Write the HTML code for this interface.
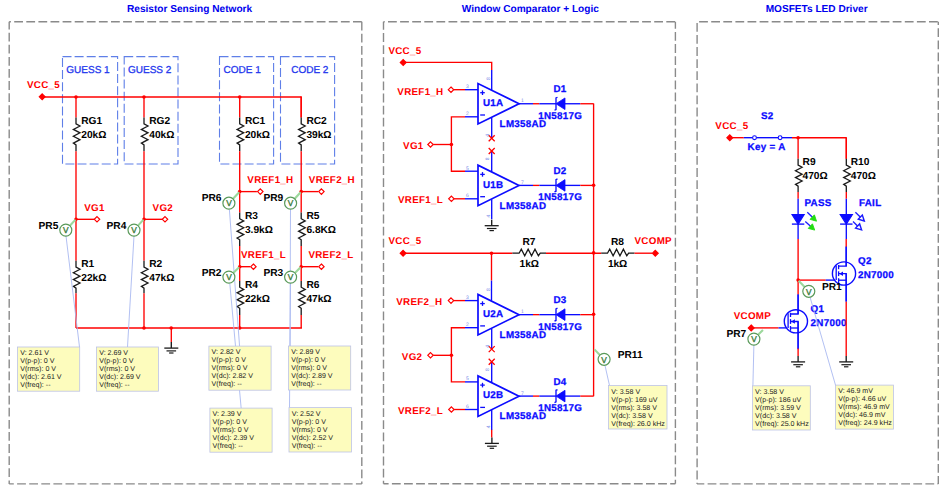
<!DOCTYPE html><html><head><meta charset="utf-8"><style>html,body{margin:0;padding:0;background:#fff;overflow:hidden;}svg{display:block;}text{font-family:"Liberation Sans", sans-serif;text-rendering:geometricPrecision;}</style></head><body>
<svg width="944" height="490" viewBox="0 0 944 490">
<rect width="944" height="490" fill="#fff"/>
<line x1="9.2" y1="21.7" x2="361.8" y2="21.7" stroke="#8a8a8a" stroke-width="1.4" stroke-dasharray="8.8,3.30" stroke-dashoffset="7.10"/>
<line x1="9.2" y1="21.7" x2="9.2" y2="483.9" stroke="#8a8a8a" stroke-width="1.4" stroke-dasharray="8.8,3.30" stroke-dashoffset="1.10"/>
<line x1="361.8" y1="21.7" x2="361.8" y2="483.9" stroke="#8a8a8a" stroke-width="1.4" stroke-dasharray="8.8,3.30" stroke-dashoffset="0.00"/>
<line x1="9.2" y1="483.9" x2="361.8" y2="483.9" stroke="#8a8a8a" stroke-width="1.4" stroke-dasharray="8.8,3.30" stroke-dashoffset="4.20"/>
<line x1="383.5" y1="21.7" x2="675.4" y2="21.7" stroke="#8a8a8a" stroke-width="1.4" stroke-dasharray="8.8,3.30" stroke-dashoffset="7.60"/>
<line x1="383.5" y1="21.7" x2="383.5" y2="483.7" stroke="#8a8a8a" stroke-width="1.4" stroke-dasharray="8.8,3.30" stroke-dashoffset="0.70"/>
<line x1="675.4" y1="21.7" x2="675.4" y2="483.7" stroke="#8a8a8a" stroke-width="1.4" stroke-dasharray="8.8,3.30" stroke-dashoffset="1.80"/>
<line x1="383.5" y1="483.7" x2="675.4" y2="483.7" stroke="#8a8a8a" stroke-width="1.4" stroke-dasharray="8.8,3.30" stroke-dashoffset="3.70"/>
<line x1="697.1" y1="21.7" x2="938.3" y2="21.7" stroke="#8a8a8a" stroke-width="1.4" stroke-dasharray="8.8,3.30" stroke-dashoffset="10.10"/>
<line x1="697.1" y1="21.7" x2="697.1" y2="483.9" stroke="#8a8a8a" stroke-width="1.4" stroke-dasharray="8.8,3.30" stroke-dashoffset="10.90"/>
<line x1="938.3" y1="21.7" x2="938.3" y2="483.9" stroke="#8a8a8a" stroke-width="1.4" stroke-dasharray="8.8,3.30" stroke-dashoffset="5.50"/>
<line x1="697.1" y1="483.9" x2="938.3" y2="483.9" stroke="#8a8a8a" stroke-width="1.4" stroke-dasharray="8.8,3.30" stroke-dashoffset="1.60"/>
<text x="127" y="11.5" fill="#0000ee" font-size="10.1" font-weight="bold" text-anchor="start" >Resistor Sensing Network</text>
<text x="461.8" y="11.5" fill="#0000ee" font-size="10.1" font-weight="bold" text-anchor="start" >Window Comparator + Logic</text>
<text x="765.7" y="11.5" fill="#0000ee" font-size="10.1" font-weight="bold" text-anchor="start" >MOSFETs LED Driver</text>
<rect x="62.5" y="56.6" width="55.099999999999994" height="107.4" fill="none" stroke="#5f7fe8" stroke-width="1.1" stroke-dasharray="9,3.1"/>
<rect x="124.2" y="56.6" width="53.8" height="107.4" fill="none" stroke="#5f7fe8" stroke-width="1.1" stroke-dasharray="9,3.1"/>
<rect x="219.5" y="56.6" width="54.10000000000002" height="107.4" fill="none" stroke="#5f7fe8" stroke-width="1.1" stroke-dasharray="9,3.1"/>
<rect x="280.5" y="56.6" width="54.10000000000002" height="107.4" fill="none" stroke="#5f7fe8" stroke-width="1.1" stroke-dasharray="9,3.1"/>
<text x="66.3" y="72.8" fill="#2438ee" font-size="10" font-weight="normal" text-anchor="start" stroke="#2438ee" stroke-width="0.3">GUESS 1</text>
<text x="128" y="72.8" fill="#2438ee" font-size="10" font-weight="normal" text-anchor="start" stroke="#2438ee" stroke-width="0.3">GUESS 2</text>
<text x="223.6" y="72.8" fill="#2438ee" font-size="10" font-weight="normal" text-anchor="start" stroke="#2438ee" stroke-width="0.3">CODE 1</text>
<text x="291.2" y="72.8" fill="#2438ee" font-size="10" font-weight="normal" text-anchor="start" stroke="#2438ee" stroke-width="0.3">CODE 2</text>
<text x="27" y="87.8" fill="#ff0000" font-size="9.8" font-weight="bold" text-anchor="start"  letter-spacing="0.3">VCC_5</text>
<line x1="42" y1="97" x2="301.2" y2="97" stroke="#ff0000" stroke-width="1.35" />
<line x1="301.2" y1="96.25" x2="301.2" y2="117.5" stroke="#ff0000" stroke-width="1.35" />
<polygon points="42.2,93.89999999999999 45.1,96.8 42.2,99.7 39.300000000000004,96.8" fill="#ff0000" stroke="#ff0000" stroke-width="1.2"/>
<circle cx="76" cy="97" r="1.8" fill="#ff0000"/>
<circle cx="144" cy="97" r="1.8" fill="#ff0000"/>
<circle cx="239.7" cy="97" r="1.8" fill="#ff0000"/>
<line x1="76" y1="97" x2="76" y2="117.5" stroke="#ff0000" stroke-width="1.35" />
<polyline points="76,117.5 76,123.8 80.0,126.0 73.4,129.42 80.0,132.84 73.4,136.26 80.0,139.68 73.4,143.1 76,144.9 76,151.2" stroke="#1a1a1a" stroke-width="1.3" fill="none" stroke-linejoin="miter"/>
<text x="81.3" y="124.2" fill="#000" font-size="10.2" font-weight="bold" text-anchor="start"  letter-spacing="-0.05">RG1</text>
<text x="81.3" y="137.7" fill="#000" font-size="10.2" font-weight="bold" text-anchor="start"  letter-spacing="-0.05">20kΩ</text>
<line x1="144" y1="97" x2="144" y2="117.5" stroke="#ff0000" stroke-width="1.35" />
<polyline points="144,117.5 144,123.8 148.0,126.0 141.4,129.42 148.0,132.84 141.4,136.26 148.0,139.68 141.4,143.1 144,144.9 144,151.2" stroke="#1a1a1a" stroke-width="1.3" fill="none" stroke-linejoin="miter"/>
<text x="149.3" y="124.2" fill="#000" font-size="10.2" font-weight="bold" text-anchor="start"  letter-spacing="-0.05">RG2</text>
<text x="149.3" y="137.7" fill="#000" font-size="10.2" font-weight="bold" text-anchor="start"  letter-spacing="-0.05">40kΩ</text>
<line x1="239.7" y1="97" x2="239.7" y2="117.5" stroke="#ff0000" stroke-width="1.35" />
<polyline points="239.7,117.5 239.7,123.8 243.7,126.0 237.1,129.42 243.7,132.84 237.1,136.26 243.7,139.68 237.1,143.1 239.7,144.9 239.7,151.2" stroke="#1a1a1a" stroke-width="1.3" fill="none" stroke-linejoin="miter"/>
<text x="245.0" y="124.2" fill="#000" font-size="10.2" font-weight="bold" text-anchor="start"  letter-spacing="-0.05">RC1</text>
<text x="245.0" y="137.7" fill="#000" font-size="10.2" font-weight="bold" text-anchor="start"  letter-spacing="-0.05">20kΩ</text>
<line x1="301.2" y1="97" x2="301.2" y2="117.5" stroke="#ff0000" stroke-width="1.35" />
<polyline points="301.2,117.5 301.2,123.8 305.2,126.0 298.59999999999997,129.42 305.2,132.84 298.59999999999997,136.26 305.2,139.68 298.59999999999997,143.1 301.2,144.9 301.2,151.2" stroke="#1a1a1a" stroke-width="1.3" fill="none" stroke-linejoin="miter"/>
<text x="306.5" y="124.2" fill="#000" font-size="10.2" font-weight="bold" text-anchor="start"  letter-spacing="-0.05">RC2</text>
<text x="306.5" y="137.7" fill="#000" font-size="10.2" font-weight="bold" text-anchor="start"  letter-spacing="-0.05">39kΩ</text>
<line x1="76" y1="151.2" x2="76" y2="260.8" stroke="#ff0000" stroke-width="1.35" />
<line x1="76" y1="219.3" x2="94.3" y2="219.3" stroke="#ff0000" stroke-width="1.35" />
<polygon points="97,216.60000000000002 99.7,219.3 97,222.0 94.3,219.3" fill="#fff" stroke="#ff0000" stroke-width="1.2"/>
<circle cx="76" cy="219.3" r="1.8" fill="#ff0000"/>
<text x="84.2" y="210.6" fill="#ff0000" font-size="9.8" font-weight="bold" text-anchor="start"  letter-spacing="0.3">VG1</text>
<polyline points="76,260.8 76,267.1 80.0,269.3 73.4,272.72 80.0,276.14 73.4,279.56 80.0,282.98 73.4,286.40000000000003 76,288.20000000000005 76,293.3" stroke="#1a1a1a" stroke-width="1.3" fill="none" stroke-linejoin="miter"/>
<text x="81.3" y="267" fill="#000" font-size="10.2" font-weight="bold" text-anchor="start"  letter-spacing="-0.05">R1</text>
<text x="81.3" y="280.8" fill="#000" font-size="10.2" font-weight="bold" text-anchor="start"  letter-spacing="-0.05">22kΩ</text>
<line x1="76" y1="293.3" x2="76" y2="328" stroke="#ff0000" stroke-width="1.35" />
<text x="38.6" y="229.2" fill="#000" font-size="10.2" font-weight="bold" text-anchor="start"  letter-spacing="-0.05">PR5</text>
<line x1="144" y1="151.2" x2="144" y2="260.8" stroke="#ff0000" stroke-width="1.35" />
<line x1="144" y1="219.3" x2="162.3" y2="219.3" stroke="#ff0000" stroke-width="1.35" />
<polygon points="165,216.60000000000002 167.7,219.3 165,222.0 162.3,219.3" fill="#fff" stroke="#ff0000" stroke-width="1.2"/>
<circle cx="144" cy="219.3" r="1.8" fill="#ff0000"/>
<text x="152.6" y="210.6" fill="#ff0000" font-size="9.8" font-weight="bold" text-anchor="start"  letter-spacing="0.3">VG2</text>
<polyline points="144,260.8 144,267.1 148.0,269.3 141.4,272.72 148.0,276.14 141.4,279.56 148.0,282.98 141.4,286.40000000000003 144,288.20000000000005 144,293.3" stroke="#1a1a1a" stroke-width="1.3" fill="none" stroke-linejoin="miter"/>
<text x="149.3" y="267" fill="#000" font-size="10.2" font-weight="bold" text-anchor="start"  letter-spacing="-0.05">R2</text>
<text x="149.3" y="280.8" fill="#000" font-size="10.2" font-weight="bold" text-anchor="start"  letter-spacing="-0.05">47kΩ</text>
<line x1="144" y1="293.3" x2="144" y2="328" stroke="#ff0000" stroke-width="1.35" />
<text x="106.6" y="229.2" fill="#000" font-size="10.2" font-weight="bold" text-anchor="start"  letter-spacing="-0.05">PR4</text>
<line x1="239.7" y1="151.2" x2="239.7" y2="212.4" stroke="#ff0000" stroke-width="1.35" />
<line x1="239.7" y1="191.6" x2="256.90000000000003" y2="191.6" stroke="#ff0000" stroke-width="1.35" />
<polygon points="260.3,188.9 263.0,191.6 260.3,194.29999999999998 257.6,191.6" fill="#fff" stroke="#ff0000" stroke-width="1.2"/>
<circle cx="239.7" cy="191.6" r="1.8" fill="#ff0000"/>
<text x="247.29999999999998" y="183" fill="#ff0000" font-size="9.8" font-weight="bold" text-anchor="start"  letter-spacing="0.3">VREF1_H</text>
<polyline points="239.7,212.4 239.7,218.70000000000002 243.7,220.9 237.1,224.32 243.7,227.74 237.1,231.16 243.7,234.58 237.1,238.0 239.7,239.8 239.7,246.1" stroke="#1a1a1a" stroke-width="1.3" fill="none" stroke-linejoin="miter"/>
<text x="245.0" y="219.4" fill="#000" font-size="10.2" font-weight="bold" text-anchor="start"  letter-spacing="-0.05">R3</text>
<text x="245.0" y="233.2" fill="#000" font-size="10.2" font-weight="bold" text-anchor="start"  letter-spacing="-0.05">3.9kΩ</text>
<line x1="239.7" y1="246.1" x2="239.7" y2="280.9" stroke="#ff0000" stroke-width="1.35" />
<text x="241.0" y="258.4" fill="#ff0000" font-size="9.8" font-weight="bold" text-anchor="start"  letter-spacing="0.3">VREF1_L</text>
<line x1="239.7" y1="266.7" x2="250.0" y2="266.7" stroke="#ff0000" stroke-width="1.35" />
<polygon points="253.4,264.0 256.1,266.7 253.4,269.4 250.70000000000002,266.7" fill="#fff" stroke="#ff0000" stroke-width="1.2"/>
<circle cx="239.7" cy="266.7" r="1.8" fill="#ff0000"/>
<polyline points="239.7,280.9 239.7,287.2 243.7,289.4 237.1,292.82 243.7,296.23999999999995 237.1,299.65999999999997 243.7,303.08 237.1,306.5 239.7,308.3 239.7,314.9" stroke="#1a1a1a" stroke-width="1.3" fill="none" stroke-linejoin="miter"/>
<text x="245.0" y="287.8" fill="#000" font-size="10.2" font-weight="bold" text-anchor="start"  letter-spacing="-0.05">R4</text>
<text x="245.0" y="301.6" fill="#000" font-size="10.2" font-weight="bold" text-anchor="start"  letter-spacing="-0.05">22kΩ</text>
<line x1="239.7" y1="314.9" x2="239.7" y2="328" stroke="#ff0000" stroke-width="1.35" />
<text x="201.8" y="201.4" fill="#000" font-size="10.2" font-weight="bold" text-anchor="start"  letter-spacing="-0.05">PR6</text>
<text x="201.8" y="276" fill="#000" font-size="10.2" font-weight="bold" text-anchor="start"  letter-spacing="-0.05">PR2</text>
<line x1="301.2" y1="151.2" x2="301.2" y2="212.4" stroke="#ff0000" stroke-width="1.35" />
<line x1="301.2" y1="191.6" x2="318.0" y2="191.6" stroke="#ff0000" stroke-width="1.35" />
<polygon points="321.4,188.9 324.09999999999997,191.6 321.4,194.29999999999998 318.7,191.6" fill="#fff" stroke="#ff0000" stroke-width="1.2"/>
<circle cx="301.2" cy="191.6" r="1.8" fill="#ff0000"/>
<text x="308.8" y="183" fill="#ff0000" font-size="9.8" font-weight="bold" text-anchor="start"  letter-spacing="0.3">VREF2_H</text>
<polyline points="301.2,212.4 301.2,218.70000000000002 305.2,220.9 298.59999999999997,224.32 305.2,227.74 298.59999999999997,231.16 305.2,234.58 298.59999999999997,238.0 301.2,239.8 301.2,246.1" stroke="#1a1a1a" stroke-width="1.3" fill="none" stroke-linejoin="miter"/>
<text x="306.5" y="219.4" fill="#000" font-size="10.2" font-weight="bold" text-anchor="start"  letter-spacing="-0.05">R5</text>
<text x="306.5" y="233.2" fill="#000" font-size="10.2" font-weight="bold" text-anchor="start"  letter-spacing="-0.05">6.8KΩ</text>
<line x1="301.2" y1="246.1" x2="301.2" y2="280.9" stroke="#ff0000" stroke-width="1.35" />
<text x="308.4" y="258.4" fill="#ff0000" font-size="9.8" font-weight="bold" text-anchor="start"  letter-spacing="0.3">VREF2_L</text>
<line x1="301.2" y1="266.7" x2="318.0" y2="266.7" stroke="#ff0000" stroke-width="1.35" />
<polygon points="321.4,264.0 324.09999999999997,266.7 321.4,269.4 318.7,266.7" fill="#fff" stroke="#ff0000" stroke-width="1.2"/>
<circle cx="301.2" cy="266.7" r="1.8" fill="#ff0000"/>
<polyline points="301.2,280.9 301.2,287.2 305.2,289.4 298.59999999999997,292.82 305.2,296.23999999999995 298.59999999999997,299.65999999999997 305.2,303.08 298.59999999999997,306.5 301.2,308.3 301.2,314.9" stroke="#1a1a1a" stroke-width="1.3" fill="none" stroke-linejoin="miter"/>
<text x="306.5" y="287.8" fill="#000" font-size="10.2" font-weight="bold" text-anchor="start"  letter-spacing="-0.05">R6</text>
<text x="306.5" y="301.6" fill="#000" font-size="10.2" font-weight="bold" text-anchor="start"  letter-spacing="-0.05">47kΩ</text>
<line x1="301.2" y1="314.9" x2="301.2" y2="328" stroke="#ff0000" stroke-width="1.35" />
<text x="263.5" y="201.4" fill="#000" font-size="10.2" font-weight="bold" text-anchor="start"  letter-spacing="-0.05">PR9</text>
<text x="263.5" y="276" fill="#000" font-size="10.2" font-weight="bold" text-anchor="start"  letter-spacing="-0.05">PR3</text>
<line x1="76" y1="328" x2="301.95" y2="328" stroke="#ff0000" stroke-width="1.35" />
<circle cx="144" cy="328" r="1.8" fill="#ff0000"/>
<circle cx="171.2" cy="328" r="1.8" fill="#ff0000"/>
<circle cx="239.7" cy="328" r="1.8" fill="#ff0000"/>
<line x1="171.3" y1="328" x2="171.3" y2="342.1" stroke="#ff0000" stroke-width="1.35" />
<line x1="171.3" y1="342.1" x2="171.3" y2="348.1" stroke="#1a1a1a" stroke-width="1.35" />
<line x1="164.3" y1="348.1" x2="178.3" y2="348.1" stroke="#1a1a1a" stroke-width="1.3" />
<line x1="166.5" y1="350.90000000000003" x2="176.10000000000002" y2="350.90000000000003" stroke="#1a1a1a" stroke-width="1.2" />
<line x1="169.10000000000002" y1="353.0" x2="173.5" y2="353.0" stroke="#1a1a1a" stroke-width="1.2" />
<line x1="66" y1="236" x2="79.5" y2="347" stroke="#a9b9f0" stroke-width="0.9" />
<line x1="134" y1="236" x2="127.5" y2="347" stroke="#a9b9f0" stroke-width="0.9" />
<line x1="229.4" y1="209.5" x2="239.6" y2="346.5" stroke="#a9b9f0" stroke-width="0.9" />
<line x1="229.8" y1="283.5" x2="241.2" y2="408.5" stroke="#a9b9f0" stroke-width="0.9" />
<line x1="290.5" y1="209" x2="290" y2="346.5" stroke="#a9b9f0" stroke-width="0.9" />
<line x1="290.5" y1="283" x2="289.5" y2="408" stroke="#a9b9f0" stroke-width="0.9" />
<line x1="69.85975173605675" y1="225.68203487546765" x2="75.45869976852576" y2="219.58906201660432" stroke="#9cd89c" stroke-width="2.1" />
<circle cx="65.8" cy="230.1" r="6" fill="#fff" stroke="#5a9a5a" stroke-width="1.2"/>
<text x="65.8" y="233.29999999999998" fill="#3d7d3d" font-size="8.3" font-weight="normal" text-anchor="middle" stroke="#3d7d3d" stroke-width="0.35">V</text>
<line x1="138.01600668121276" y1="225.64223258385383" x2="143.46453244250498" y2="219.5943689888195" stroke="#9cd89c" stroke-width="2.1" />
<circle cx="134" cy="230.1" r="6" fill="#fff" stroke="#5a9a5a" stroke-width="1.2"/>
<text x="134" y="233.29999999999998" fill="#3d7d3d" font-size="8.3" font-weight="normal" text-anchor="middle" stroke="#3d7d3d" stroke-width="0.35">V</text>
<line x1="232.98851116751305" y1="198.8086361534119" x2="239.1548651776649" y2="192.18551517954506" stroke="#9cd89c" stroke-width="2.1" />
<circle cx="228.9" cy="203.2" r="6" fill="#fff" stroke="#5a9a5a" stroke-width="1.2"/>
<text x="228.9" y="206.39999999999998" fill="#3d7d3d" font-size="8.3" font-weight="normal" text-anchor="middle" stroke="#3d7d3d" stroke-width="0.35">V</text>
<line x1="233.2219212809489" y1="272.9381498776048" x2="239.1237438292068" y2="267.25491334965267" stroke="#9cd89c" stroke-width="2.1" />
<circle cx="228.9" cy="277.1" r="6" fill="#fff" stroke="#5a9a5a" stroke-width="1.2"/>
<text x="228.9" y="280.3" fill="#3d7d3d" font-size="8.3" font-weight="normal" text-anchor="middle" stroke="#3d7d3d" stroke-width="0.35">V</text>
<line x1="294.647426599308" y1="198.77074070264405" x2="300.66034312009225" y2="192.19056790631413" stroke="#9cd89c" stroke-width="2.1" />
<circle cx="290.6" cy="203.2" r="6" fill="#fff" stroke="#5a9a5a" stroke-width="1.2"/>
<text x="290.6" y="206.39999999999998" fill="#3d7d3d" font-size="8.3" font-weight="normal" text-anchor="middle" stroke="#3d7d3d" stroke-width="0.35">V</text>
<line x1="294.8828525596294" y1="272.89795597923154" x2="300.6289529920494" y2="267.26027253610243" stroke="#9cd89c" stroke-width="2.1" />
<circle cx="290.6" cy="277.1" r="6" fill="#fff" stroke="#5a9a5a" stroke-width="1.2"/>
<text x="290.6" y="280.3" fill="#3d7d3d" font-size="8.3" font-weight="normal" text-anchor="middle" stroke="#3d7d3d" stroke-width="0.35">V</text>
<rect x="17.5" y="347" width="62.2" height="44.19999999999999" fill="#fdfcbd" stroke="#bcc2e6" stroke-width="0.8"/>
<text x="20.2" y="355.0" fill="#222" font-size="7.1" font-weight="normal" text-anchor="start" >V: 2.61 V</text>
<text x="20.2" y="363.0" fill="#222" font-size="7.1" font-weight="normal" text-anchor="start" >V(p-p): 0 V</text>
<text x="20.2" y="371.0" fill="#222" font-size="7.1" font-weight="normal" text-anchor="start" >V(rms): 0 V</text>
<text x="20.2" y="379.0" fill="#222" font-size="7.1" font-weight="normal" text-anchor="start" >V(dc): 2.61 V</text>
<text x="20.2" y="387.0" fill="#222" font-size="7.1" font-weight="normal" text-anchor="start" >V(freq): --</text>
<rect x="96.5" y="347" width="61.900000000000006" height="44.19999999999999" fill="#fdfcbd" stroke="#bcc2e6" stroke-width="0.8"/>
<text x="99.2" y="355.0" fill="#222" font-size="7.1" font-weight="normal" text-anchor="start" >V: 2.69 V</text>
<text x="99.2" y="363.0" fill="#222" font-size="7.1" font-weight="normal" text-anchor="start" >V(p-p): 0 V</text>
<text x="99.2" y="371.0" fill="#222" font-size="7.1" font-weight="normal" text-anchor="start" >V(rms): 0 V</text>
<text x="99.2" y="379.0" fill="#222" font-size="7.1" font-weight="normal" text-anchor="start" >V(dc): 2.69 V</text>
<text x="99.2" y="387.0" fill="#222" font-size="7.1" font-weight="normal" text-anchor="start" >V(freq): --</text>
<rect x="208.9" y="346.1" width="62.20000000000002" height="44.099999999999966" fill="#fdfcbd" stroke="#bcc2e6" stroke-width="0.8"/>
<text x="211.6" y="354.1" fill="#222" font-size="7.1" font-weight="normal" text-anchor="start" >V: 2.82 V</text>
<text x="211.6" y="362.1" fill="#222" font-size="7.1" font-weight="normal" text-anchor="start" >V(p-p): 0 V</text>
<text x="211.6" y="370.1" fill="#222" font-size="7.1" font-weight="normal" text-anchor="start" >V(rms): 0 V</text>
<text x="211.6" y="378.1" fill="#222" font-size="7.1" font-weight="normal" text-anchor="start" >V(dc): 2.82 V</text>
<text x="211.6" y="386.1" fill="#222" font-size="7.1" font-weight="normal" text-anchor="start" >V(freq): --</text>
<rect x="209.9" y="408.1" width="62.20000000000002" height="44.099999999999966" fill="#fdfcbd" stroke="#bcc2e6" stroke-width="0.8"/>
<text x="212.6" y="416.1" fill="#222" font-size="7.1" font-weight="normal" text-anchor="start" >V: 2.39 V</text>
<text x="212.6" y="424.1" fill="#222" font-size="7.1" font-weight="normal" text-anchor="start" >V(p-p): 0 V</text>
<text x="212.6" y="432.1" fill="#222" font-size="7.1" font-weight="normal" text-anchor="start" >V(rms): 0 V</text>
<text x="212.6" y="440.1" fill="#222" font-size="7.1" font-weight="normal" text-anchor="start" >V(dc): 2.39 V</text>
<text x="212.6" y="448.1" fill="#222" font-size="7.1" font-weight="normal" text-anchor="start" >V(freq): --</text>
<rect x="288.5" y="346" width="62.19999999999999" height="44" fill="#fdfcbd" stroke="#bcc2e6" stroke-width="0.8"/>
<text x="291.2" y="354.0" fill="#222" font-size="7.1" font-weight="normal" text-anchor="start" >V: 2.89 V</text>
<text x="291.2" y="362.0" fill="#222" font-size="7.1" font-weight="normal" text-anchor="start" >V(p-p): 0 V</text>
<text x="291.2" y="370.0" fill="#222" font-size="7.1" font-weight="normal" text-anchor="start" >V(rms): 0 V</text>
<text x="291.2" y="378.0" fill="#222" font-size="7.1" font-weight="normal" text-anchor="start" >V(dc): 2.89 V</text>
<text x="291.2" y="386.0" fill="#222" font-size="7.1" font-weight="normal" text-anchor="start" >V(freq): --</text>
<rect x="289" y="407.6" width="62.39999999999998" height="44.39999999999998" fill="#fdfcbd" stroke="#bcc2e6" stroke-width="0.8"/>
<text x="291.7" y="415.6" fill="#222" font-size="7.1" font-weight="normal" text-anchor="start" >V: 2.52 V</text>
<text x="291.7" y="423.6" fill="#222" font-size="7.1" font-weight="normal" text-anchor="start" >V(p-p): 0 V</text>
<text x="291.7" y="431.6" fill="#222" font-size="7.1" font-weight="normal" text-anchor="start" >V(rms): 0 V</text>
<text x="291.7" y="439.6" fill="#222" font-size="7.1" font-weight="normal" text-anchor="start" >V(dc): 2.52 V</text>
<text x="291.7" y="447.6" fill="#222" font-size="7.1" font-weight="normal" text-anchor="start" >V(freq): --</text>
<text x="388.4" y="54" fill="#ff0000" font-size="9.8" font-weight="bold" text-anchor="start"  letter-spacing="0.3">VCC_5</text>
<polygon points="403.2,59.6 406.09999999999997,62.5 403.2,65.4 400.3,62.5" fill="#ff0000" stroke="#ff0000" stroke-width="1.2"/>
<polyline points="403.2,62.3 491.7,62.3 491.7,70" stroke="#ff0000" stroke-width="1.35" fill="none" />
<line x1="491.7" y1="70" x2="491.7" y2="90" stroke="#0c0cff" stroke-width="1.35" />
<polygon points="478,83.5 478,124.0 519,103.75" fill="none" stroke="#0c0cff" stroke-width="1.7"/>
<line x1="480.2" y1="92.7" x2="484.8" y2="92.7" stroke="#0c0cff" stroke-width="1.3" />
<line x1="482.5" y1="90.4" x2="482.5" y2="95.0" stroke="#0c0cff" stroke-width="1.3" />
<line x1="480.2" y1="115.0" x2="485" y2="115.0" stroke="#0c0cff" stroke-width="1.3" />
<text x="483" y="105.95" fill="#0c0cff" font-size="9.8" font-weight="bold" text-anchor="start"  letter-spacing="0.3" stroke="#0c0cff" stroke-width="0.28">U1A</text>
<text x="499.6" y="127.0" fill="#0c0cff" font-size="9.8" font-weight="bold" text-anchor="start"  letter-spacing="0.3" stroke="#0c0cff" stroke-width="0.28">LM358AD</text>
<line x1="453.7" y1="89.7" x2="465" y2="89.7" stroke="#ff0000" stroke-width="1.35" />
<line x1="465" y1="89.7" x2="478" y2="89.7" stroke="#0c0cff" stroke-width="1.35" />
<polygon points="451,87.0 453.7,89.7 451,92.4 448.3,89.7" fill="#fff" stroke="#ff0000" stroke-width="1.2"/>
<text x="397.3" y="94.5" fill="#ff0000" font-size="9.8" font-weight="bold" text-anchor="start"  letter-spacing="0.3">VREF1_H</text>
<line x1="465" y1="116.8" x2="478" y2="116.8" stroke="#0c0cff" stroke-width="1.35" />
<line x1="519" y1="103.75" x2="533" y2="103.75" stroke="#0c0cff" stroke-width="1.35" />
<line x1="533" y1="103.75" x2="539.3" y2="103.75" stroke="#ff0000" stroke-width="1.35" />
<line x1="539.3" y1="103.75" x2="556" y2="103.75" stroke="#0c0cff" stroke-width="1.35" />
<polygon points="556,103.75 565,97.95 565,109.55" fill="#0c0cff" stroke="#0c0cff" stroke-width="0.8"/>
<polyline points="557.5,97.25 556,97.95 556,109.55 554.5,110.25" stroke="#0c0cff" stroke-width="1.35" fill="none" />
<text x="553.5" y="92.15" fill="#0c0cff" font-size="9.8" font-weight="bold" text-anchor="start"  letter-spacing="0.3" stroke="#0c0cff" stroke-width="0.28">D1</text>
<text x="538.2" y="118.75" fill="#0c0cff" font-size="9.8" font-weight="bold" text-anchor="start"  letter-spacing="0.3" stroke="#0c0cff" stroke-width="0.28">1N5817G</text>
<line x1="565" y1="103.75" x2="580.3" y2="103.75" stroke="#0c0cff" stroke-width="1.35" />
<line x1="580.3" y1="103.75" x2="593.6" y2="103.75" stroke="#ff0000" stroke-width="1.35" />
<polygon points="478,165.2 478,205.7 519,185.45" fill="none" stroke="#0c0cff" stroke-width="1.7"/>
<line x1="480.2" y1="174.39999999999998" x2="484.8" y2="174.39999999999998" stroke="#0c0cff" stroke-width="1.3" />
<line x1="482.5" y1="172.1" x2="482.5" y2="176.7" stroke="#0c0cff" stroke-width="1.3" />
<line x1="480.2" y1="196.7" x2="485" y2="196.7" stroke="#0c0cff" stroke-width="1.3" />
<text x="483" y="187.64999999999998" fill="#0c0cff" font-size="9.8" font-weight="bold" text-anchor="start"  letter-spacing="0.3" stroke="#0c0cff" stroke-width="0.28">U1B</text>
<text x="499.6" y="208.7" fill="#0c0cff" font-size="9.8" font-weight="bold" text-anchor="start"  letter-spacing="0.3" stroke="#0c0cff" stroke-width="0.28">LM358AD</text>
<polyline points="465,116.8 451.4,116.8 451.4,171.2 465,171.2" stroke="#ff0000" stroke-width="1.35" fill="none" />
<line x1="465" y1="171.2" x2="478" y2="171.2" stroke="#0c0cff" stroke-width="1.35" />
<line x1="433.2" y1="144.5" x2="451.4" y2="144.5" stroke="#ff0000" stroke-width="1.35" />
<polygon points="430.5,141.8 433.2,144.5 430.5,147.2 427.8,144.5" fill="#fff" stroke="#ff0000" stroke-width="1.2"/>
<circle cx="451.4" cy="144.5" r="1.8" fill="#ff0000"/>
<text x="403.1" y="149.0" fill="#ff0000" font-size="9.8" font-weight="bold" text-anchor="start"  letter-spacing="0.3">VG1</text>
<line x1="454.1" y1="198.79999999999998" x2="465" y2="198.79999999999998" stroke="#ff0000" stroke-width="1.35" />
<line x1="465" y1="198.79999999999998" x2="478" y2="198.79999999999998" stroke="#0c0cff" stroke-width="1.35" />
<polygon points="451.4,196.1 454.09999999999997,198.79999999999998 451.4,201.49999999999997 448.7,198.79999999999998" fill="#fff" stroke="#ff0000" stroke-width="1.2"/>
<text x="398" y="203.29999999999998" fill="#ff0000" font-size="9.8" font-weight="bold" text-anchor="start"  letter-spacing="0.3">VREF1_L</text>
<line x1="519" y1="185.39999999999998" x2="533" y2="185.39999999999998" stroke="#0c0cff" stroke-width="1.35" />
<line x1="533" y1="185.39999999999998" x2="539.3" y2="185.39999999999998" stroke="#ff0000" stroke-width="1.35" />
<line x1="539.3" y1="185.39999999999998" x2="556" y2="185.39999999999998" stroke="#0c0cff" stroke-width="1.35" />
<polygon points="556,185.39999999999998 565,179.59999999999997 565,191.2" fill="#0c0cff" stroke="#0c0cff" stroke-width="0.8"/>
<polyline points="557.5,178.89999999999998 556,179.59999999999997 556,191.2 554.5,191.89999999999998" stroke="#0c0cff" stroke-width="1.35" fill="none" />
<text x="553.5" y="173.79999999999998" fill="#0c0cff" font-size="9.8" font-weight="bold" text-anchor="start"  letter-spacing="0.3" stroke="#0c0cff" stroke-width="0.28">D2</text>
<text x="538.2" y="200.39999999999998" fill="#0c0cff" font-size="9.8" font-weight="bold" text-anchor="start"  letter-spacing="0.3" stroke="#0c0cff" stroke-width="0.28">1N5817G</text>
<line x1="565" y1="185.39999999999998" x2="580.3" y2="185.39999999999998" stroke="#0c0cff" stroke-width="1.35" />
<line x1="580.3" y1="185.39999999999998" x2="593.6" y2="185.39999999999998" stroke="#ff0000" stroke-width="1.35" />
<line x1="491.7" y1="117.5" x2="491.7" y2="138.2" stroke="#0c0cff" stroke-width="1.35" />
<line x1="491.7" y1="151.0" x2="491.7" y2="171.7" stroke="#0c0cff" stroke-width="1.35" />
<line x1="488.7" y1="135.2" x2="494.7" y2="141.2" stroke="#ff0000" stroke-width="1.3" />
<line x1="488.7" y1="141.2" x2="494.7" y2="135.2" stroke="#ff0000" stroke-width="1.3" />
<line x1="488.7" y1="148.0" x2="494.7" y2="154.0" stroke="#ff0000" stroke-width="1.3" />
<line x1="488.7" y1="154.0" x2="494.7" y2="148.0" stroke="#ff0000" stroke-width="1.3" />
<line x1="491.7" y1="199.2" x2="491.7" y2="219.2" stroke="#0c0cff" stroke-width="1.35" />
<text x="466" y="88.2" fill="#7a8ae8" font-size="5" font-weight="normal" text-anchor="start" >3</text>
<text x="466" y="115.3" fill="#7a8ae8" font-size="5" font-weight="normal" text-anchor="start" >2</text>
<text x="521" y="102.25" fill="#7a8ae8" font-size="5" font-weight="normal" text-anchor="start" >1</text>
<text x="466" y="169.7" fill="#7a8ae8" font-size="5" font-weight="normal" text-anchor="start" >5</text>
<text x="466" y="197.29999999999998" fill="#7a8ae8" font-size="5" font-weight="normal" text-anchor="start" >6</text>
<text x="521" y="183.89999999999998" fill="#7a8ae8" font-size="5" font-weight="normal" text-anchor="start" >7</text>
<text x="488" y="80.3" fill="#7a8ae8" font-size="5" text-anchor="middle" transform="rotate(-90 488 78.6)">8</text>
<text x="487.6" y="137.1" fill="#7a8ae8" font-size="5" text-anchor="middle" transform="rotate(-90 487.6 135.4)">4</text>
<text x="487.6" y="160.49999999999997" fill="#7a8ae8" font-size="5" text-anchor="middle" transform="rotate(-90 487.6 158.79999999999998)">8</text>
<text x="488" y="217.89999999999998" fill="#7a8ae8" font-size="5" text-anchor="middle" transform="rotate(-90 488 216.2)">4</text>
<polygon points="478,294.4 478,334.9 519,314.65" fill="none" stroke="#0c0cff" stroke-width="1.7"/>
<line x1="480.2" y1="303.59999999999997" x2="484.8" y2="303.59999999999997" stroke="#0c0cff" stroke-width="1.3" />
<line x1="482.5" y1="301.29999999999995" x2="482.5" y2="305.9" stroke="#0c0cff" stroke-width="1.3" />
<line x1="480.2" y1="325.9" x2="485" y2="325.9" stroke="#0c0cff" stroke-width="1.3" />
<text x="483" y="316.84999999999997" fill="#0c0cff" font-size="9.8" font-weight="bold" text-anchor="start"  letter-spacing="0.3" stroke="#0c0cff" stroke-width="0.28">U2A</text>
<text x="499.6" y="337.9" fill="#0c0cff" font-size="9.8" font-weight="bold" text-anchor="start"  letter-spacing="0.3" stroke="#0c0cff" stroke-width="0.28">LM358AD</text>
<line x1="453.7" y1="300.59999999999997" x2="465" y2="300.59999999999997" stroke="#ff0000" stroke-width="1.35" />
<line x1="465" y1="300.59999999999997" x2="478" y2="300.59999999999997" stroke="#0c0cff" stroke-width="1.35" />
<polygon points="451,297.9 453.7,300.59999999999997 451,303.29999999999995 448.3,300.59999999999997" fill="#fff" stroke="#ff0000" stroke-width="1.2"/>
<text x="396.2" y="305.4" fill="#ff0000" font-size="9.8" font-weight="bold" text-anchor="start"  letter-spacing="0.3">VREF2_H</text>
<line x1="465" y1="327.7" x2="478" y2="327.7" stroke="#0c0cff" stroke-width="1.35" />
<line x1="519" y1="314.65" x2="533" y2="314.65" stroke="#0c0cff" stroke-width="1.35" />
<line x1="533" y1="314.65" x2="539.3" y2="314.65" stroke="#ff0000" stroke-width="1.35" />
<line x1="539.3" y1="314.65" x2="556" y2="314.65" stroke="#0c0cff" stroke-width="1.35" />
<polygon points="556,314.65 565,308.84999999999997 565,320.45" fill="#0c0cff" stroke="#0c0cff" stroke-width="0.8"/>
<polyline points="557.5,308.15 556,308.84999999999997 556,320.45 554.5,321.15" stroke="#0c0cff" stroke-width="1.35" fill="none" />
<text x="553.5" y="303.04999999999995" fill="#0c0cff" font-size="9.8" font-weight="bold" text-anchor="start"  letter-spacing="0.3" stroke="#0c0cff" stroke-width="0.28">D3</text>
<text x="538.2" y="329.65" fill="#0c0cff" font-size="9.8" font-weight="bold" text-anchor="start"  letter-spacing="0.3" stroke="#0c0cff" stroke-width="0.28">1N5817G</text>
<line x1="565" y1="314.65" x2="580.3" y2="314.65" stroke="#0c0cff" stroke-width="1.35" />
<line x1="580.3" y1="314.65" x2="593.6" y2="314.65" stroke="#ff0000" stroke-width="1.35" />
<polygon points="478,375.9 478,416.4 519,396.15" fill="none" stroke="#0c0cff" stroke-width="1.7"/>
<line x1="480.2" y1="385.09999999999997" x2="484.8" y2="385.09999999999997" stroke="#0c0cff" stroke-width="1.3" />
<line x1="482.5" y1="382.79999999999995" x2="482.5" y2="387.4" stroke="#0c0cff" stroke-width="1.3" />
<line x1="480.2" y1="407.4" x2="485" y2="407.4" stroke="#0c0cff" stroke-width="1.3" />
<text x="483" y="398.34999999999997" fill="#0c0cff" font-size="9.8" font-weight="bold" text-anchor="start"  letter-spacing="0.3" stroke="#0c0cff" stroke-width="0.28">U2B</text>
<text x="499.6" y="419.4" fill="#0c0cff" font-size="9.8" font-weight="bold" text-anchor="start"  letter-spacing="0.3" stroke="#0c0cff" stroke-width="0.28">LM358AD</text>
<polyline points="465,327.7 451.4,327.7 451.4,381.9 465,381.9" stroke="#ff0000" stroke-width="1.35" fill="none" />
<line x1="465" y1="381.9" x2="478" y2="381.9" stroke="#0c0cff" stroke-width="1.35" />
<line x1="433.2" y1="355.29999999999995" x2="451.4" y2="355.29999999999995" stroke="#ff0000" stroke-width="1.35" />
<polygon points="430.5,352.59999999999997 433.2,355.29999999999995 430.5,357.99999999999994 427.8,355.29999999999995" fill="#fff" stroke="#ff0000" stroke-width="1.2"/>
<circle cx="451.4" cy="355.29999999999995" r="1.8" fill="#ff0000"/>
<text x="401.8" y="359.79999999999995" fill="#ff0000" font-size="9.8" font-weight="bold" text-anchor="start"  letter-spacing="0.3">VG2</text>
<line x1="454.1" y1="409.5" x2="465" y2="409.5" stroke="#ff0000" stroke-width="1.35" />
<line x1="465" y1="409.5" x2="478" y2="409.5" stroke="#0c0cff" stroke-width="1.35" />
<polygon points="451.4,406.8 454.09999999999997,409.5 451.4,412.2 448.7,409.5" fill="#fff" stroke="#ff0000" stroke-width="1.2"/>
<text x="398" y="414.0" fill="#ff0000" font-size="9.8" font-weight="bold" text-anchor="start"  letter-spacing="0.3">VREF2_L</text>
<line x1="519" y1="396.09999999999997" x2="533" y2="396.09999999999997" stroke="#0c0cff" stroke-width="1.35" />
<line x1="533" y1="396.09999999999997" x2="539.3" y2="396.09999999999997" stroke="#ff0000" stroke-width="1.35" />
<line x1="539.3" y1="396.09999999999997" x2="556" y2="396.09999999999997" stroke="#0c0cff" stroke-width="1.35" />
<polygon points="556,396.09999999999997 565,390.29999999999995 565,401.9" fill="#0c0cff" stroke="#0c0cff" stroke-width="0.8"/>
<polyline points="557.5,389.59999999999997 556,390.29999999999995 556,401.9 554.5,402.59999999999997" stroke="#0c0cff" stroke-width="1.35" fill="none" />
<text x="553.5" y="384.49999999999994" fill="#0c0cff" font-size="9.8" font-weight="bold" text-anchor="start"  letter-spacing="0.3" stroke="#0c0cff" stroke-width="0.28">D4</text>
<text x="538.2" y="411.09999999999997" fill="#0c0cff" font-size="9.8" font-weight="bold" text-anchor="start"  letter-spacing="0.3" stroke="#0c0cff" stroke-width="0.28">1N5817G</text>
<line x1="565" y1="396.09999999999997" x2="580.3" y2="396.09999999999997" stroke="#0c0cff" stroke-width="1.35" />
<line x1="580.3" y1="396.09999999999997" x2="593.6" y2="396.09999999999997" stroke="#ff0000" stroke-width="1.35" />
<line x1="491.7" y1="328.4" x2="491.7" y2="349.09999999999997" stroke="#0c0cff" stroke-width="1.35" />
<line x1="491.7" y1="361.7" x2="491.7" y2="382.4" stroke="#0c0cff" stroke-width="1.35" />
<line x1="488.7" y1="346.09999999999997" x2="494.7" y2="352.09999999999997" stroke="#ff0000" stroke-width="1.3" />
<line x1="488.7" y1="352.09999999999997" x2="494.7" y2="346.09999999999997" stroke="#ff0000" stroke-width="1.3" />
<line x1="488.7" y1="358.7" x2="494.7" y2="364.7" stroke="#ff0000" stroke-width="1.3" />
<line x1="488.7" y1="364.7" x2="494.7" y2="358.7" stroke="#ff0000" stroke-width="1.3" />
<line x1="491.7" y1="409.9" x2="491.7" y2="429.9" stroke="#0c0cff" stroke-width="1.35" />
<text x="466" y="299.09999999999997" fill="#7a8ae8" font-size="5" font-weight="normal" text-anchor="start" >3</text>
<text x="466" y="326.2" fill="#7a8ae8" font-size="5" font-weight="normal" text-anchor="start" >2</text>
<text x="521" y="313.15" fill="#7a8ae8" font-size="5" font-weight="normal" text-anchor="start" >1</text>
<text x="466" y="380.4" fill="#7a8ae8" font-size="5" font-weight="normal" text-anchor="start" >5</text>
<text x="466" y="408.0" fill="#7a8ae8" font-size="5" font-weight="normal" text-anchor="start" >6</text>
<text x="521" y="394.59999999999997" fill="#7a8ae8" font-size="5" font-weight="normal" text-anchor="start" >7</text>
<text x="488" y="291.2" fill="#7a8ae8" font-size="5" text-anchor="middle" transform="rotate(-90 488 289.5)">8</text>
<text x="487.6" y="347.99999999999994" fill="#7a8ae8" font-size="5" text-anchor="middle" transform="rotate(-90 487.6 346.29999999999995)">4</text>
<text x="487.6" y="371.2" fill="#7a8ae8" font-size="5" text-anchor="middle" transform="rotate(-90 487.6 369.5)">8</text>
<text x="488" y="428.59999999999997" fill="#7a8ae8" font-size="5" text-anchor="middle" transform="rotate(-90 488 426.9)">4</text>
<line x1="491.7" y1="219.7" x2="491.7" y2="225.7" stroke="#1a1a1a" stroke-width="1.35" />
<line x1="484.7" y1="225.7" x2="498.7" y2="225.7" stroke="#1a1a1a" stroke-width="1.3" />
<line x1="486.9" y1="228.5" x2="496.5" y2="228.5" stroke="#1a1a1a" stroke-width="1.2" />
<line x1="489.5" y1="230.6" x2="493.9" y2="230.6" stroke="#1a1a1a" stroke-width="1.2" />
<line x1="491.7" y1="429.8" x2="491.7" y2="437.5" stroke="#ff0000" stroke-width="1.35" />
<line x1="491.9" y1="437.4" x2="491.9" y2="443.4" stroke="#1a1a1a" stroke-width="1.35" />
<line x1="484.9" y1="443.4" x2="498.9" y2="443.4" stroke="#1a1a1a" stroke-width="1.3" />
<line x1="487.09999999999997" y1="446.2" x2="496.7" y2="446.2" stroke="#1a1a1a" stroke-width="1.2" />
<line x1="489.7" y1="448.29999999999995" x2="494.09999999999997" y2="448.29999999999995" stroke="#1a1a1a" stroke-width="1.2" />
<text x="388.5" y="244.2" fill="#ff0000" font-size="9.8" font-weight="bold" text-anchor="start"  letter-spacing="0.3">VCC_5</text>
<polygon points="403.1,250.29999999999998 406.0,253.2 403.1,256.09999999999997 400.20000000000005,253.2" fill="#ff0000" stroke="#ff0000" stroke-width="1.2"/>
<line x1="403.1" y1="253.2" x2="512.4" y2="253.2" stroke="#ff0000" stroke-width="1.35" />
<circle cx="491.5" cy="253.2" r="1.8" fill="#ff0000"/>
<polyline points="491.5,253.2 491.5,280.6" stroke="#ff0000" stroke-width="1.35" fill="none" />
<line x1="491.5" y1="280.6" x2="491.5" y2="300.6" stroke="#0c0cff" stroke-width="1.35" />
<polyline points="512.4,253.2 519.1,253.2 521.3000000000001,249.2 524.72,255.79999999999998 528.1400000000001,249.2 531.5600000000001,255.79999999999998 534.98,249.2 538.4000000000001,255.79999999999998 540.2,253.2 546,253.2" stroke="#1a1a1a" stroke-width="1.3" fill="none" />
<text x="522.5" y="244.7" fill="#000" font-size="10.2" font-weight="bold" text-anchor="start"  letter-spacing="-0.05">R7</text>
<text x="519.6" y="266.8" fill="#000" font-size="10.2" font-weight="bold" text-anchor="start"  letter-spacing="-0.05">1kΩ</text>
<line x1="546" y1="253.2" x2="601.2" y2="253.2" stroke="#ff0000" stroke-width="1.35" />
<polyline points="601.2,253.2 607.5,253.2 609.7,249.2 613.12,255.79999999999998 616.5400000000001,249.2 619.96,255.79999999999998 623.38,249.2 626.8000000000001,255.79999999999998 628.6,253.2 634.5,253.2" stroke="#1a1a1a" stroke-width="1.3" fill="none" />
<line x1="634.5" y1="253.2" x2="652" y2="253.2" stroke="#ff0000" stroke-width="1.35" />
<polygon points="655.3,250.29999999999998 658.1999999999999,253.2 655.3,256.09999999999997 652.4,253.2" fill="#ff0000" stroke="#ff0000" stroke-width="1.2"/>
<text x="610.9" y="244.7" fill="#000" font-size="10.2" font-weight="bold" text-anchor="start"  letter-spacing="-0.05">R8</text>
<text x="607.9" y="266.8" fill="#000" font-size="10.2" font-weight="bold" text-anchor="start"  letter-spacing="-0.05">1kΩ</text>
<text x="634.5" y="244.3" fill="#ff0000" font-size="9.8" font-weight="bold" text-anchor="start"  letter-spacing="0.3">VCOMP</text>
<polyline points="593.6,103.5 593.6,396.3" stroke="#ff0000" stroke-width="1.35" fill="none" />
<circle cx="593.6" cy="185.2" r="1.8" fill="#ff0000"/>
<circle cx="593.6" cy="252.9" r="1.8" fill="#ff0000"/>
<circle cx="593.6" cy="314.3" r="1.8" fill="#ff0000"/>
<line x1="609.5" y1="385.5" x2="605" y2="365.5" stroke="#a9b9f0" stroke-width="0.9" />
<line x1="599.8983481635485" y1="355.0167626909961" x2="594.3602202448601" y2="349.3710983078672" stroke="#9cd89c" stroke-width="2.1" />
<circle cx="604.1" cy="359.3" r="6" fill="#fff" stroke="#5a9a5a" stroke-width="1.2"/>
<text x="604.1" y="362.5" fill="#3d7d3d" font-size="8.3" font-weight="normal" text-anchor="middle" stroke="#3d7d3d" stroke-width="0.35">V</text>
<text x="617.8" y="357.6" fill="#000" font-size="10.2" font-weight="bold" text-anchor="start"  letter-spacing="-0.05">PR11</text>
<rect x="608.6" y="385.5" width="58.39999999999998" height="43.5" fill="#fdfcbd" stroke="#bcc2e6" stroke-width="0.8"/>
<text x="611.3000000000001" y="393.5" fill="#222" font-size="7.1" font-weight="normal" text-anchor="start" >V: 3.58 V</text>
<text x="611.3000000000001" y="401.5" fill="#222" font-size="7.1" font-weight="normal" text-anchor="start" >V(p-p): 169 uV</text>
<text x="611.3000000000001" y="409.5" fill="#222" font-size="7.1" font-weight="normal" text-anchor="start" >V(rms): 3.58 V</text>
<text x="611.3000000000001" y="417.5" fill="#222" font-size="7.1" font-weight="normal" text-anchor="start" >V(dc): 3.58 V</text>
<text x="611.3000000000001" y="425.5" fill="#222" font-size="7.1" font-weight="normal" text-anchor="start" >V(freq): 26.0 kHz</text>
<text x="715.3" y="128.7" fill="#ff0000" font-size="9.8" font-weight="bold" text-anchor="start"  letter-spacing="0.3">VCC_5</text>
<polygon points="729.8,134.79999999999998 732.6999999999999,137.7 729.8,140.6 726.9,137.7" fill="#ff0000" stroke="#ff0000" stroke-width="1.2"/>
<line x1="729.8" y1="137.7" x2="743.8" y2="137.7" stroke="#ff0000" stroke-width="1.35" />
<line x1="743.8" y1="137.7" x2="752.7" y2="137.7" stroke="#0c0cff" stroke-width="1.35" />
<line x1="756.3" y1="137.7" x2="778.3" y2="137.7" stroke="#0c0cff" stroke-width="1.35" />
<circle cx="754.5" cy="137.7" r="1.9" fill="#fff" stroke="#0c0cff" stroke-width="1.1"/>
<circle cx="780.1" cy="137.7" r="1.9" fill="#fff" stroke="#0c0cff" stroke-width="1.1"/>
<line x1="781.9" y1="137.7" x2="792" y2="137.7" stroke="#0c0cff" stroke-width="1.35" />
<line x1="792" y1="137.7" x2="846.3" y2="137.7" stroke="#ff0000" stroke-width="1.35" />
<circle cx="798.1" cy="137.7" r="1.8" fill="#ff0000"/>
<line x1="846.3" y1="137.2" x2="846.3" y2="158.8" stroke="#ff0000" stroke-width="1.35" />
<text x="761" y="119" fill="#0c0cff" font-size="9.8" font-weight="bold" text-anchor="start"  letter-spacing="0.3" stroke="#0c0cff" stroke-width="0.28">S2</text>
<text x="747.6" y="149.8" fill="#0c0cff" font-size="9.8" font-weight="bold" text-anchor="start"  letter-spacing="0.3" stroke="#0c0cff" stroke-width="0.28">Key = A</text>
<line x1="798.1" y1="137.7" x2="798.1" y2="158.8" stroke="#ff0000" stroke-width="1.35" />
<polyline points="798.1,158.8 798.1,165.10000000000002 802.1,167.3 795.5,170.72 802.1,174.14000000000001 795.5,177.56 802.1,180.98000000000002 795.5,184.4 798.1,186.20000000000002 798.1,192" stroke="#1a1a1a" stroke-width="1.3" fill="none" stroke-linejoin="miter"/>
<text x="802.6" y="165.2" fill="#000" font-size="10.2" font-weight="bold" text-anchor="start"  letter-spacing="-0.05">R9</text>
<text x="802.6" y="178.7" fill="#000" font-size="10.2" font-weight="bold" text-anchor="start"  letter-spacing="-0.05">470Ω</text>
<line x1="798.1" y1="192" x2="798.1" y2="198.7" stroke="#ff0000" stroke-width="1.35" />
<line x1="798.1" y1="198.7" x2="798.1" y2="214.5" stroke="#0c0cff" stroke-width="1.35" />
<polygon points="792.0,214.5 804.2,214.5 798.1,224.1" fill="#0c0cff" stroke="#0c0cff" stroke-width="1.1"/>
<line x1="791.9" y1="224.1" x2="804.3000000000001" y2="224.1" stroke="#0c0cff" stroke-width="1.35" />
<line x1="798.1" y1="224.1" x2="798.1" y2="239" stroke="#0c0cff" stroke-width="1.35" />
<line x1="846.3" y1="137.7" x2="846.3" y2="158.8" stroke="#ff0000" stroke-width="1.35" />
<polyline points="846.3,158.8 846.3,165.10000000000002 850.3,167.3 843.6999999999999,170.72 850.3,174.14000000000001 843.6999999999999,177.56 850.3,180.98000000000002 843.6999999999999,184.4 846.3,186.20000000000002 846.3,192" stroke="#1a1a1a" stroke-width="1.3" fill="none" stroke-linejoin="miter"/>
<text x="850.8" y="165.2" fill="#000" font-size="10.2" font-weight="bold" text-anchor="start"  letter-spacing="-0.05">R10</text>
<text x="850.8" y="178.7" fill="#000" font-size="10.2" font-weight="bold" text-anchor="start"  letter-spacing="-0.05">470Ω</text>
<line x1="846.3" y1="192" x2="846.3" y2="198.7" stroke="#ff0000" stroke-width="1.35" />
<line x1="846.3" y1="198.7" x2="846.3" y2="214.5" stroke="#0c0cff" stroke-width="1.35" />
<polygon points="840.1999999999999,214.5 852.4,214.5 846.3,224.1" fill="#0c0cff" stroke="#0c0cff" stroke-width="1.1"/>
<line x1="840.0999999999999" y1="224.1" x2="852.5" y2="224.1" stroke="#0c0cff" stroke-width="1.35" />
<line x1="846.3" y1="224.1" x2="846.3" y2="239" stroke="#0c0cff" stroke-width="1.35" />
<text x="804.5" y="205.9" fill="#0c0cff" font-size="9.8" font-weight="bold" text-anchor="start"  letter-spacing="0.3" stroke="#0c0cff" stroke-width="0.28">PASS</text>
<text x="859" y="205.9" fill="#0c0cff" font-size="9.8" font-weight="bold" text-anchor="start"  letter-spacing="0.3" stroke="#0c0cff" stroke-width="0.28">FAIL</text>
<line x1="807.3" y1="212.3" x2="812.9782324741758" y2="217.79307271958302" stroke="#1a1aff" stroke-width="1.3" />
<polygon points="816.5,221.2 810.10,219.33 814.41,214.87" fill="#22dd11" stroke="#22dd11" stroke-width="0.9" stroke-linejoin="miter"/>
<line x1="805.3" y1="221.5" x2="811.0847534810467" y2="226.7924340358512" stroke="#1a1aff" stroke-width="1.3" />
<polygon points="814.7,230.1 808.25,228.40 812.44,223.83" fill="#22dd11" stroke="#22dd11" stroke-width="0.9" stroke-linejoin="miter"/>
<line x1="855.4" y1="212.3" x2="861.0105587862021" y2="217.78447881347853" stroke="#1a1aff" stroke-width="1.3" />
<polygon points="864.3,221.0 858.27,219.16 862.32,215.01" fill="#fff" stroke="#1a1aff" stroke-width="1.4" stroke-linejoin="miter"/>
<line x1="853.0" y1="221.5" x2="858.3092695756546" y2="226.68579819017424" stroke="#1a1aff" stroke-width="1.3" />
<polygon points="861.6,229.9 855.57,228.06 859.62,223.91" fill="#fff" stroke="#1a1aff" stroke-width="1.4" stroke-linejoin="miter"/>
<line x1="798.1" y1="239" x2="798.1" y2="294.7" stroke="#ff0000" stroke-width="1.35" />
<circle cx="798.1" cy="280.1" r="1.8" fill="#ff0000"/>
<line x1="798.1" y1="280.1" x2="825.7" y2="280.1" stroke="#ff0000" stroke-width="1.35" />
<line x1="825.7" y1="280.1" x2="835.1" y2="280.1" stroke="#0c0cff" stroke-width="1.35" />
<line x1="798.1" y1="294.7" x2="798.1" y2="314.1" stroke="#0c0cff" stroke-width="1.35" />
<line x1="846.2" y1="239" x2="846.2" y2="247.1" stroke="#ff0000" stroke-width="1.35" />
<line x1="846.2" y1="247.1" x2="846.2" y2="266.3" stroke="#0c0cff" stroke-width="1.35" />
<circle cx="844" cy="273.5" r="11.6" fill="none" stroke="#0c0cff" stroke-width="1.4"/>
<line x1="836.2" y1="265.5" x2="836.2" y2="280.1" stroke="#0c0cff" stroke-width="1.3" />
<line x1="838.6" y1="265.0" x2="838.6" y2="269.2" stroke="#0c0cff" stroke-width="1.3" />
<line x1="838.6" y1="271.3" x2="838.6" y2="276.1" stroke="#0c0cff" stroke-width="1.3" />
<line x1="838.6" y1="278.2" x2="838.6" y2="283.0" stroke="#0c0cff" stroke-width="1.3" />
<polyline points="846.2,246.5 846.2,266.2 838.6,266.2" stroke="#0c0cff" stroke-width="1.3" fill="none" />
<polyline points="838.6,280.2 846.2,280.2" stroke="#0c0cff" stroke-width="1.3" fill="none" />
<polyline points="838.6,273.7 846.2,273.7 846.2,301.5" stroke="#0c0cff" stroke-width="1.3" fill="none" />
<polygon points="839.4,273.7 843.0,271.5 843.0,275.9" fill="#0c0cff"/>
<circle cx="795.9" cy="321.3" r="11.6" fill="none" stroke="#0c0cff" stroke-width="1.4"/>
<line x1="788.1" y1="313.29999999999995" x2="788.1" y2="327.9" stroke="#0c0cff" stroke-width="1.3" />
<line x1="790.5" y1="312.8" x2="790.5" y2="317.0" stroke="#0c0cff" stroke-width="1.3" />
<line x1="790.5" y1="319.1" x2="790.5" y2="323.90000000000003" stroke="#0c0cff" stroke-width="1.3" />
<line x1="790.5" y1="326.0" x2="790.5" y2="330.8" stroke="#0c0cff" stroke-width="1.3" />
<polyline points="798.1,294.3 798.1,314.0 790.5,314.0" stroke="#0c0cff" stroke-width="1.3" fill="none" />
<polyline points="790.5,328.0 798.1,328.0" stroke="#0c0cff" stroke-width="1.3" fill="none" />
<polyline points="790.5,321.5 798.1,321.5 798.1,349.3" stroke="#0c0cff" stroke-width="1.3" fill="none" />
<polygon points="791.3,321.5 794.9,319.3 794.9,323.7" fill="#0c0cff"/>
<text x="858" y="264.4" fill="#0c0cff" font-size="9.8" font-weight="bold" text-anchor="start"  letter-spacing="0.3" stroke="#0c0cff" stroke-width="0.28">Q2</text>
<text x="858" y="277.8" fill="#0c0cff" font-size="9.8" font-weight="bold" text-anchor="start"  letter-spacing="0.3" stroke="#0c0cff" stroke-width="0.28">2N7000</text>
<text x="810.6" y="312" fill="#0c0cff" font-size="9.8" font-weight="bold" text-anchor="start"  letter-spacing="0.3" stroke="#0c0cff" stroke-width="0.28">Q1</text>
<text x="810.6" y="325.5" fill="#0c0cff" font-size="9.8" font-weight="bold" text-anchor="start"  letter-spacing="0.3" stroke="#0c0cff" stroke-width="0.28">2N7000</text>
<line x1="846.2" y1="301.4" x2="846.2" y2="356" stroke="#ff0000" stroke-width="1.35" />
<line x1="798.1" y1="348.2" x2="798.1" y2="356" stroke="#ff0000" stroke-width="1.35" />
<line x1="798.1" y1="355.9" x2="798.1" y2="361.9" stroke="#1a1a1a" stroke-width="1.35" />
<line x1="791.1" y1="361.9" x2="805.1" y2="361.9" stroke="#1a1a1a" stroke-width="1.3" />
<line x1="793.3000000000001" y1="364.7" x2="802.9" y2="364.7" stroke="#1a1a1a" stroke-width="1.2" />
<line x1="795.9" y1="366.79999999999995" x2="800.3000000000001" y2="366.79999999999995" stroke="#1a1a1a" stroke-width="1.2" />
<line x1="846.2" y1="355.9" x2="846.2" y2="361.9" stroke="#1a1a1a" stroke-width="1.35" />
<line x1="839.2" y1="361.9" x2="853.2" y2="361.9" stroke="#1a1a1a" stroke-width="1.3" />
<line x1="841.4000000000001" y1="364.7" x2="851.0" y2="364.7" stroke="#1a1a1a" stroke-width="1.2" />
<line x1="844.0" y1="366.79999999999995" x2="848.4000000000001" y2="366.79999999999995" stroke="#1a1a1a" stroke-width="1.2" />
<line x1="798.1" y1="321.4" x2="798.1" y2="348.5" stroke="#0c0cff" stroke-width="1.35" />
<line x1="846.2" y1="273.6" x2="846.2" y2="301.4" stroke="#0c0cff" stroke-width="1.35" />
<line x1="751.2" y1="327.9" x2="778.5" y2="327.9" stroke="#ff0000" stroke-width="1.35" />
<line x1="778.5" y1="327.9" x2="786.6" y2="327.9" stroke="#0c0cff" stroke-width="1.35" />
<polygon points="751.2,325.0 754.1,327.9 751.2,330.79999999999995 748.3000000000001,327.9" fill="#ff0000" stroke="#ff0000" stroke-width="1.2"/>
<text x="733.7" y="318.9" fill="#ff0000" font-size="9.8" font-weight="bold" text-anchor="start"  letter-spacing="0.3">VCOMP</text>
<text x="726.5" y="337.3" fill="#000" font-size="10.2" font-weight="bold" text-anchor="start"  letter-spacing="-0.05">PR7</text>
<text x="821.9" y="289.7" fill="#000" font-size="10.2" font-weight="bold" text-anchor="start"  letter-spacing="-0.05">PR1</text>
<line x1="753.9" y1="345" x2="752.9" y2="385.8" stroke="#a9b9f0" stroke-width="0.9" />
<line x1="810" y1="297" x2="835.5" y2="385.1" stroke="#a9b9f0" stroke-width="0.9" />
<line x1="758.1426406871193" y1="334.85735931288076" x2="762.9343145750507" y2="330.06568542494927" stroke="#9cd89c" stroke-width="2.1" />
<circle cx="753.9" cy="339.1" r="6" fill="#fff" stroke="#5a9a5a" stroke-width="1.2"/>
<text x="753.9" y="342.3" fill="#3d7d3d" font-size="8.3" font-weight="normal" text-anchor="middle" stroke="#3d7d3d" stroke-width="0.35">V</text>
<line x1="804.6553033405487" y1="286.9616259265557" x2="798.6526262212602" y2="280.67844987645924" stroke="#9cd89c" stroke-width="2.1" />
<circle cx="808.8" cy="291.3" r="6" fill="#fff" stroke="#5a9a5a" stroke-width="1.2"/>
<text x="808.8" y="294.5" fill="#3d7d3d" font-size="8.3" font-weight="normal" text-anchor="middle" stroke="#3d7d3d" stroke-width="0.35">V</text>
<rect x="752.4" y="385.8" width="57.89999999999998" height="44.19999999999999" fill="#fdfcbd" stroke="#bcc2e6" stroke-width="0.8"/>
<text x="755.1" y="393.8" fill="#222" font-size="7.1" font-weight="normal" text-anchor="start" >V: 3.58 V</text>
<text x="755.1" y="401.8" fill="#222" font-size="7.1" font-weight="normal" text-anchor="start" >V(p-p): 186 uV</text>
<text x="755.1" y="409.8" fill="#222" font-size="7.1" font-weight="normal" text-anchor="start" >V(rms): 3.59 V</text>
<text x="755.1" y="417.8" fill="#222" font-size="7.1" font-weight="normal" text-anchor="start" >V(dc): 3.58 V</text>
<text x="755.1" y="425.8" fill="#222" font-size="7.1" font-weight="normal" text-anchor="start" >V(freq): 25.0 kHz</text>
<rect x="835.5" y="385.1" width="57.89999999999998" height="44.0" fill="#fdfcbd" stroke="#bcc2e6" stroke-width="0.8"/>
<text x="838.2" y="393.1" fill="#222" font-size="7.1" font-weight="normal" text-anchor="start" >V: 46.9 mV</text>
<text x="838.2" y="401.1" fill="#222" font-size="7.1" font-weight="normal" text-anchor="start" >V(p-p): 4.66 uV</text>
<text x="838.2" y="409.1" fill="#222" font-size="7.1" font-weight="normal" text-anchor="start" >V(rms): 46.9 mV</text>
<text x="838.2" y="417.1" fill="#222" font-size="7.1" font-weight="normal" text-anchor="start" >V(dc): 46.9 mV</text>
<text x="838.2" y="425.1" fill="#222" font-size="7.1" font-weight="normal" text-anchor="start" >V(freq): 24.9 kHz</text>
</svg></body></html>
